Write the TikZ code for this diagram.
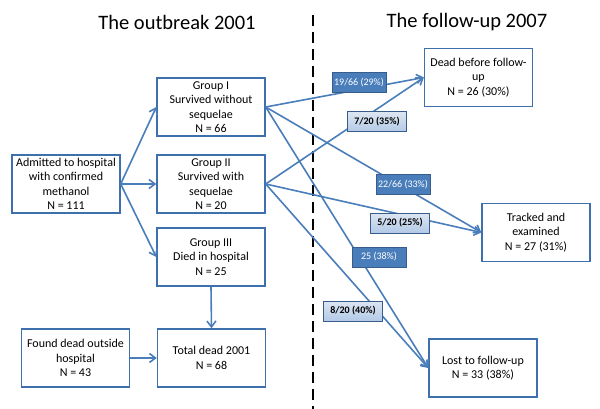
\documentclass[tikz,border=0pt]{standalone}
\usepackage{fontspec}
\setmainfont{Carlito}
\usetikzlibrary{arrows.meta}
\definecolor{boxline}{HTML}{3F70AE}
\definecolor{flowline}{HTML}{4A7EBB}
\definecolor{tagline}{HTML}{385D8A}
\definecolor{tagdark}{HTML}{4A7EBB}
\definecolor{taglighttop}{HTML}{DCE6F2}
\definecolor{taglightbot}{HTML}{B3C9E6}

\begin{document}
\begin{tikzpicture}[x=1pt,y=-1pt,
      box/.style={draw=boxline,line width=1.4pt,fill=white,align=center,
        minimum width=108pt,minimum height=58pt,inner sep=1pt,
        font=\fontsize{12}{14.5}\selectfont},
      heading/.style={font=\fontsize{20.5}{24}\selectfont},
      flow/.style={draw=flowline,line width=1.6pt,
        -{Straight Barb[length=6pt,width=9pt]}},
      tag/.style={draw=tagline,line width=1pt,inner xsep=2pt,inner ysep=1pt,
        minimum height=20pt,font=\fontsize{10}{12}\selectfont},
      darktag/.style={tag,fill=tagdark,text=white,minimum width=54pt},
      lighttag/.style={tag,top color=taglighttop,bottom color=taglightbot,
        minimum width=59pt,font=\fontsize{10}{12}\selectfont\bfseries}]
    \useasboundingbox (0,0) rectangle (600,409);

    % --- Headings and the dashed divider between the two periods ------------
    \node[heading] (headold) at (177,22) {The outbreak 2001};
    \node[heading] (headnew) at (467,22) {The follow-up 2007};
    \draw[black,line width=2.8pt,dash pattern=on 11pt off 6pt] (313,15) -- (313,409);

    % --- Left column: admission and the three groups -------------------------
    \node[box] (admitted) at (66,184)
      {Admitted to hospital\\with confirmed\\methanol\\N = 111};
    \node[box] (groupone) at (211,107)
      {Group I\\Survived without\\sequelae\\N = 66};
    \node[box] (grouptwo) at (211,184)
      {Group II\\Survived with\\sequelae\\N = 20};
    \node[box] (groupthree) at (211,257)
      {Group III\\Died in hospital\\N = 25};

    % --- Bottom row: deaths in 2001 ------------------------------------------
    \node[box] (founddead) at (75.5,358)
      {Found dead outside\\hospital\\N = 43};
    \node[box] (totaldead) at (211.5,358) {Total dead 2001\\N = 68};

    % --- Right column: outcome in 2007 ---------------------------------------
    \node[box] (deadbefore) at (478.5,77.5)
      {Dead before follow-\\up\\N = 26 (30\%)};
    \node[box] (tracked) at (536,232.5)
      {Tracked and\\examined\\N = 27 (31\%)};
    \node[box] (lost) at (483,368) {Lost to follow-up\\N = 33 (38\%)};

    % --- Arrows --------------------------------------------------------------
    % Admission splits into the three groups.
    \draw[flow] (admitted.east) -- (groupone.west);
    \draw[flow] (admitted.east) -- (grouptwo.west);
    \draw[flow] (admitted.east) -- (groupthree.west);
    % Deaths add up to the 2001 total.
    \draw[flow] (groupthree.south) -- (totaldead.north);
    \draw[flow] (founddead.east) -- (totaldead.west);
    % Both surviving groups fan out to the three 2007 outcomes.
    \draw[flow] (groupone.east) -- (deadbefore.west);
    \draw[flow] (grouptwo.east) -- (deadbefore.west);
    \draw[flow] (groupone.east) -- (tracked.west);
    \draw[flow] (grouptwo.east) -- (tracked.west);
    \draw[flow] (groupone.east) -- (lost.west);
    \draw[flow] (grouptwo.east) -- (lost.west);

    % --- Shares on the arrows, drawn last so they sit on top ------------------
    \node[darktag] (shareonedead) at (359,83) {19/66 (29\%)};
    \node[lighttag] (sharetwodead) at (377,122) {7/20 (35\%)};
    \node[darktag] (shareonetracked) at (403,185) {22/66 (33\%)};
    \node[lighttag] (sharetwotracked) at (400,223) {5/20 (25\%)};
    \node[darktag] (shareonelost) at (379,257) {25 (38\%)};
    \node[lighttag] (sharetwolost) at (353,311) {8/20 (40\%)};
  \end{tikzpicture}
\end{document}
